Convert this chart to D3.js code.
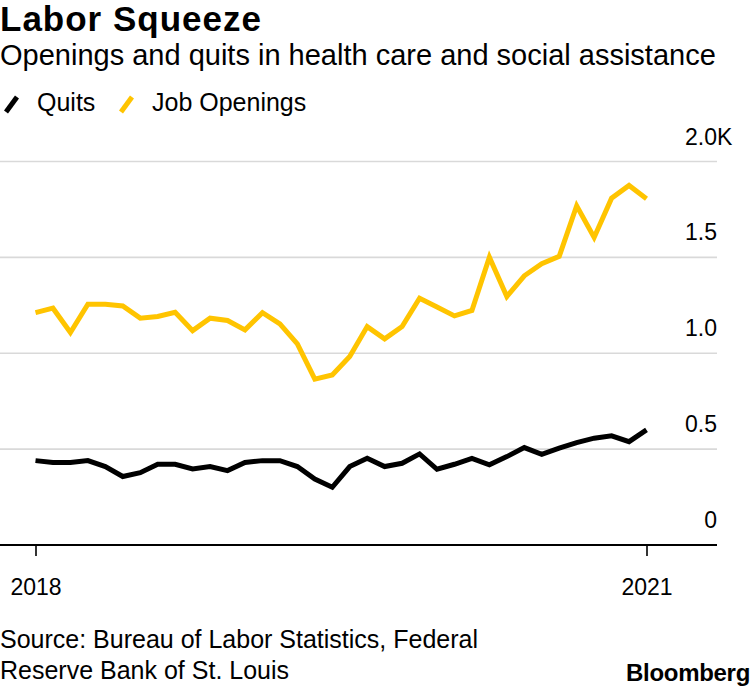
<!DOCTYPE html>
<html>
<head>
<meta charset="utf-8">
<script src="https://cdn.jsdelivr.net/npm/d3@7"></script>
<style>
  html, body { margin: 0; padding: 0; background: #fff; }
  svg { display: block; font-family: "Liberation Sans", Arial, Helvetica, sans-serif; }
</style>
</head>
<body>
<svg id="chart" width="750" height="688"></svg>
<script>
// ---- Data ----
const months = [
  "2018-01","2018-02","2018-03","2018-04","2018-05","2018-06",
  "2018-07","2018-08","2018-09","2018-10","2018-11","2018-12",
  "2019-01","2019-02","2019-03","2019-04","2019-05","2019-06",
  "2019-07","2019-08","2019-09","2019-10","2019-11","2019-12",
  "2020-01","2020-02","2020-03","2020-04","2020-05","2020-06",
  "2020-07","2020-08","2020-09","2020-10","2020-11","2020-12"
];
// thousands
const jobOpenings = [
  1.212, 1.235, 1.108, 1.256, 1.256, 1.247, 1.183, 1.192, 1.214, 1.118,
  1.183, 1.171, 1.122, 1.212, 1.153, 1.049, 0.865, 0.887, 0.983, 1.139,
  1.075, 1.139, 1.287, 1.241, 1.195, 1.223, 1.501, 1.296, 1.404, 1.467,
  1.505, 1.769, 1.604, 1.809, 1.875, 1.806
];
const quits = [
  0.440, 0.430, 0.430, 0.440, 0.409, 0.357, 0.377, 0.421, 0.421, 0.397,
  0.409, 0.388, 0.430, 0.440, 0.440, 0.409, 0.344, 0.301, 0.409, 0.452,
  0.409, 0.426, 0.475, 0.395, 0.421, 0.452, 0.418, 0.461, 0.508, 0.473,
  0.505, 0.534, 0.557, 0.569, 0.539, 0.600
];
const seriesNames = ["Quits", "Job Openings"];
const seriesColors = ["#000000", "#ffc400"];
const yTickValues = [0, 0.5, 1.0, 1.5, 2.0];
const yTickLabels = ["0", "0.5", "1.0", "1.5", "2.0"];
const yTickSuffix = ["", "", "", "", "K"];
const xTickMonths = ["2018-01", "2020-12"];
const xTickLabels = ["2018", "2021"];

const title = "Labor Squeeze";
const subtitle = "Openings and quits in health care and social assistance";
const sourceLines = ["Source: Bureau of Labor Statistics, Federal", "Reserve Bank of St. Louis"];
const brand = "Bloomberg";

// ---- Layout ----
const svg = d3.select("#chart");
const plotLeft = 0, plotRight = 717;
const x = d3.scalePoint().domain(months).range([35.5, 646.5]);
const y = d3.scaleLinear().domain([0, 2.0]).range([545, 161.5]);

// Title / subtitle
svg.append("text").attr("x", 0).attr("y", 31)
  .attr("font-size", 35).attr("font-weight", "bold").attr("fill", "#000")
  .attr("letter-spacing", 1)
  .text(title);
svg.append("text").attr("x", 0).attr("y", 65)
  .attr("font-size", 29).attr("fill", "#000")
  .text(subtitle);

// Legend
const legendItems = [
  { name: seriesNames[0], color: seriesColors[0], sx: 4, tx: 37 },
  { name: seriesNames[1], color: seriesColors[1], sx: 119, tx: 152 }
];
legendItems.forEach(d => {
  svg.append("line")
    .attr("x1", d.sx + 2).attr("y1", 112).attr("x2", d.sx + 13).attr("y2", 97)
    .attr("stroke", d.color).attr("stroke-width", 5).attr("stroke-linecap", "butt");
  svg.append("text").attr("x", d.tx).attr("y", 111)
    .attr("font-size", 25).attr("fill", "#000").text(d.name);
});

// Gridlines
const grid = svg.append("g");
yTickValues.filter(v => v > 0).forEach(v => {
  grid.append("line")
    .attr("x1", plotLeft).attr("x2", plotRight)
    .attr("y1", y(v)).attr("y2", y(v))
    .attr("stroke", "#d9d9d9").attr("stroke-width", 1.6);
});

// Y tick labels (above gridlines, right aligned, suffix hangs out)
yTickValues.forEach((v, i) => {
  svg.append("text")
    .attr("x", plotRight).attr("y", y(v) - 17)
    .attr("text-anchor", "end").attr("font-size", 23).attr("fill", "#000")
    .text(yTickLabels[i]);
  if (yTickSuffix[i]) {
    svg.append("text")
      .attr("x", plotRight).attr("y", y(v) - 17)
      .attr("text-anchor", "start").attr("font-size", 23).attr("fill", "#000")
      .text(yTickSuffix[i]);
  }
});

// X axis
const xAxis = d3.axisBottom(x)
  .tickValues(xTickMonths)
  .tickSize(11)
  .tickFormat((d, i) => xTickLabels[i]);
const gx = svg.append("g").attr("transform", `translate(0,${y(0)})`).call(xAxis);
gx.select(".domain").remove();
gx.selectAll(".tick line").attr("stroke", "#000").attr("stroke-width", 1.6);
gx.selectAll(".tick text").attr("font-size", 23).attr("fill", "#000")
  .attr("font-family", "Liberation Sans, Arial, sans-serif")
  .attr("y", 0).attr("dy", 0).attr("transform", "translate(0,50)");
svg.append("line")
  .attr("x1", plotLeft).attr("x2", plotRight)
  .attr("y1", y(0)).attr("y2", y(0))
  .attr("stroke", "#000").attr("stroke-width", 1.8);

// Lines
const line = d3.line().x((d, i) => x(months[i])).y(d => y(d)).curve(d3.curveLinear);
[[jobOpenings, seriesColors[1]], [quits, seriesColors[0]]].forEach(([vals, color]) => {
  svg.append("path").datum(vals)
    .attr("d", line)
    .attr("fill", "none")
    .attr("stroke", color)
    .attr("stroke-width", 5)
    .attr("stroke-linejoin", "miter")
    .attr("stroke-linecap", "butt");
});

// Source + brand
sourceLines.forEach((s, i) => {
  svg.append("text").attr("x", 0).attr("y", 648 + i * 31)
    .attr("font-size", 25).attr("fill", "#000").text(s);
});
svg.append("text").attr("x", 750).attr("y", 681)
  .attr("text-anchor", "end").attr("font-size", 24).attr("font-weight", "bold")
  .attr("letter-spacing", -0.3)
  .attr("fill", "#000").text(brand);
</script>
</body>
</html>
